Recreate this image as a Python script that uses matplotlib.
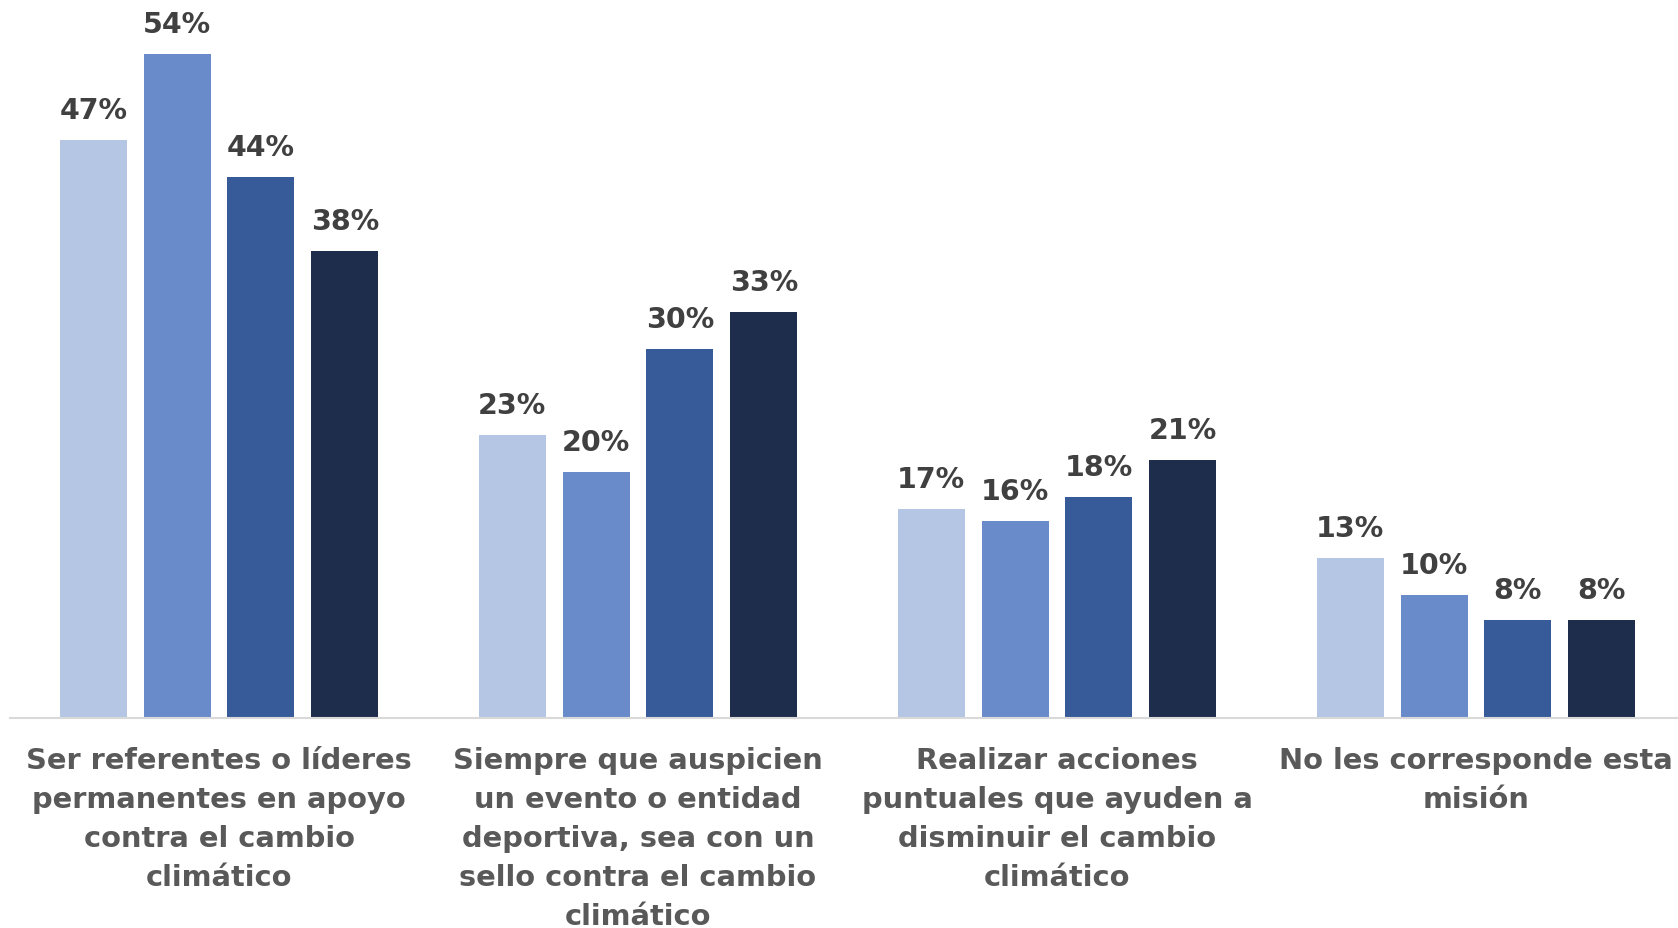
import numpy as np
import matplotlib
matplotlib.use("Agg")
import matplotlib.pyplot as plt

# Data
categories = [
    "Ser referentes o líderes\npermanentes en apoyo\ncontra el cambio\nclimático",
    "Siempre que auspicien\nun evento o entidad\ndeportiva, sea con un\nsello contra el cambio\nclimático",
    "Realizar acciones\npuntuales que ayuden a\ndisminuir el cambio\nclimático",
    "No les corresponde esta\nmisión",
]
serie_1 = [47, 23, 17, 13]
serie_2 = [54, 20, 16, 10]
serie_3 = [44, 30, 18, 8]
serie_4 = [38, 33, 21, 8]

series = [serie_1, serie_2, serie_3, serie_4]
colors = ["#B4C6E4", "#6A8BC9", "#375A99", "#1E2D4B"]

plt.rcParams['font.family'] = ['DejaVu Sans']

W, H = 1678, 929
fig = plt.figure(figsize=(W / 100, H / 100), dpi=100)

# axes placement in pixels (x-axis runs slightly past the right edge)
left_px, base_px, cat_w = 9.5, 719, 419
ymax = 57
px_per_pct = 664 / 54
ax_h = ymax * px_per_pct
ax = fig.add_axes([left_px / W, (H - base_px) / H, 4 * cat_w / W, ax_h / H])

x = np.arange(len(categories))
bar_w = 0.16
offsets = [-0.3, -0.1, 0.1, 0.3]

for vals, off, col in zip(series, offsets, colors):
    bars = ax.bar(x + off, vals, width=bar_w, color=col, edgecolor="none", zorder=2)
    for b, v in zip(bars, vals):
        ax.annotate(f"{v}%", (b.get_x() + b.get_width() / 2, v),
                    xytext=(0, 11.5), textcoords="offset points",
                    ha="center", va="bottom", fontsize=20.5,
                    fontweight="bold", color="#404040")

ax.set_xlim(-0.5, len(categories) - 0.5)
ax.set_ylim(0, ymax)
ax.set_xticks(x)
ax.set_xticklabels(categories, fontsize=20.8, fontweight="bold", color="#595959",
                   linespacing=1.5)
ax.tick_params(axis="x", length=0, pad=20)
ax.set_yticks([])
for side in ["top", "right", "left"]:
    ax.spines[side].set_visible(False)
ax.spines["bottom"].set_color("#D9D9D9")
ax.spines["bottom"].set_linewidth(1.5)

fig.savefig("out.png", dpi=100)
